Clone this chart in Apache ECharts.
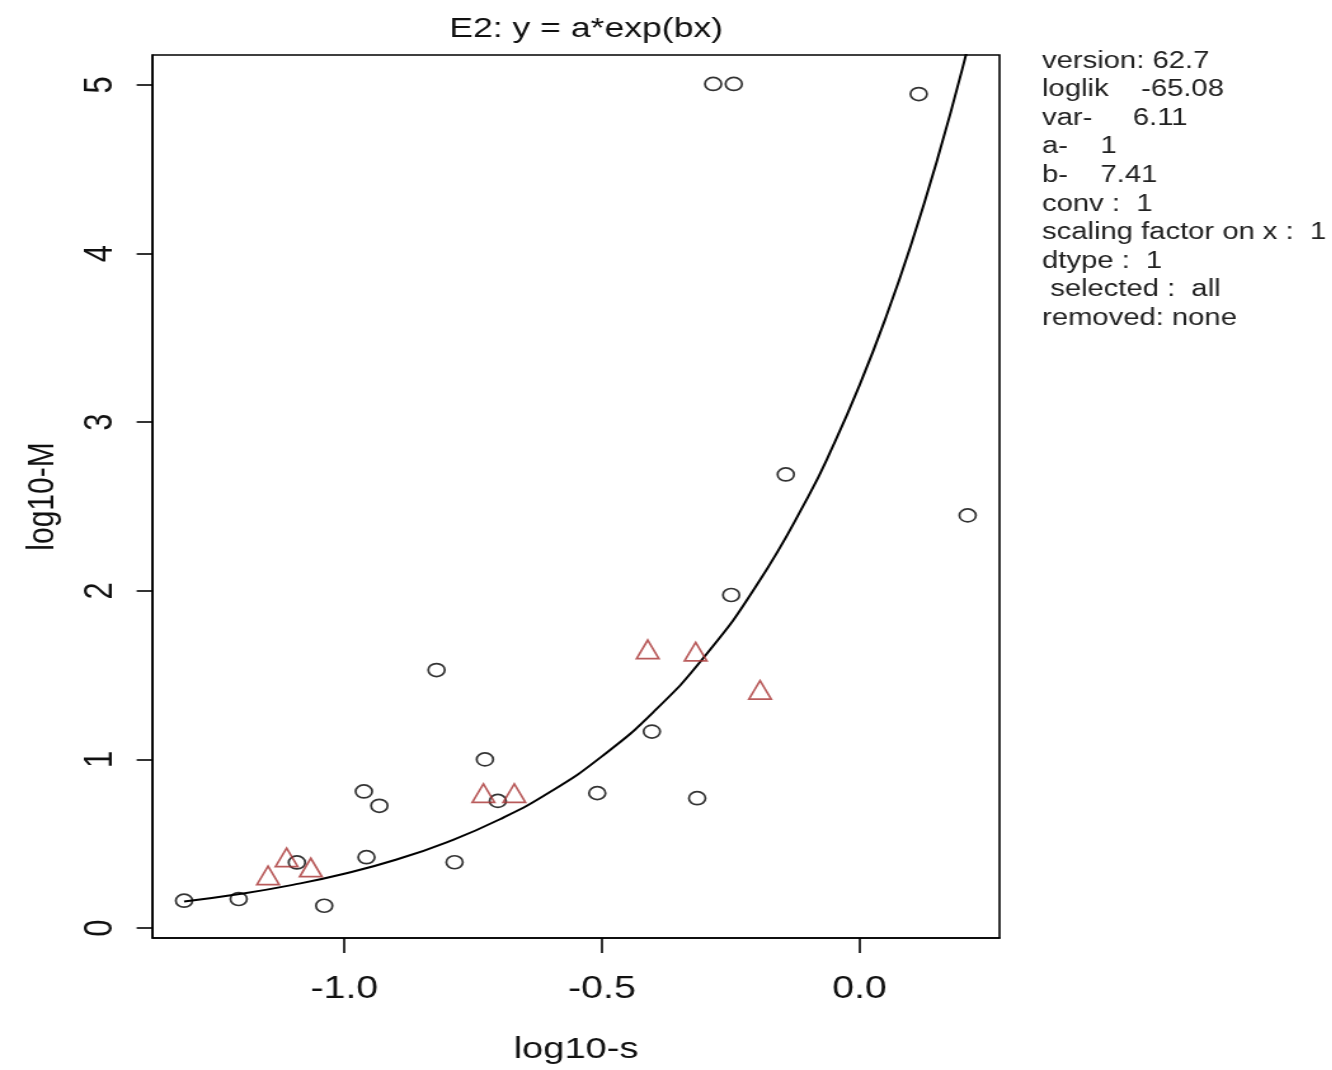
<!DOCTYPE html>
<html>
<head>
<meta charset="utf-8">
<title>E2: y = a*exp(bx)</title>
<script src="https://cdn.jsdelivr.net/npm/echarts@6/dist/echarts.min.js"></script>
<style>
    html, body { margin: 0; padding: 0; background: #fff; overflow: hidden; }
    /* the original picture is stretched sideways, so draw narrow and widen */
    #chart { width: 1049px; height: 1070px; transform: scaleX(1.27); transform-origin: 0 0; }
</style>
</head>
<body>
<div id="chart"></div>
<script>
// observed points (log10-s, log10-M)
var circleX = [-1.311, -1.205, -1.092, -1.039, -0.957, -0.962, -0.932, -0.821, -0.786, -0.727,
               -0.702, -0.509, -0.143, 0.210, -0.249, -0.403, -0.315, -0.284, -0.244, 0.115];
var circleY = [0.162, 0.172, 0.389, 0.132, 0.42, 0.81, 0.725, 1.53, 0.39, 1.0,
               0.754, 0.80, 2.69, 2.447, 1.975, 1.165, 0.77, 5.006, 5.006, 4.946];

// red triangles
var triX = [-1.112, -1.148, -1.065, -0.730, -0.670, -0.411, -0.318, -0.193];
var triY = [0.419, 0.312, 0.359, 0.80, 0.80, 1.653, 1.639, 1.412];

// fitted curve
var curveX = [-1.311, -1.2, -1.1, -1.0, -0.9, -0.8, -0.7, -0.6, -0.5, -0.4, -0.3,
              -0.2, -0.1, -0.05, 0.0, 0.05, 0.1, 0.15, 0.2, 0.25];
var curveY = [0.157, 0.203, 0.256, 0.322, 0.405, 0.510, 0.642, 0.808, 1.018, 1.281, 1.613,
              2.031, 2.556, 2.868, 3.218, 3.611, 4.051, 4.546, 5.100, 5.722];

var xTicks = [-1.0, -0.5, 0.0];
var xTickLabels = ['-1.0', '-0.5', '0.0'];
var yTicks = [0, 1, 2, 3, 4, 5];

var infoLines = [
    'version: 62.7',
    'loglik    -65.08',
    'var-     6.11',
    'a-    1',
    'b-    7.41',
    'conv :  1',
    'scaling factor on x :  1',
    'dtype :  1',
    ' selected :  all',
    'removed: none'
];

function pairs(xs, ys) {
    var out = [];
    for (var i = 0; i < xs.length; i++) {
        out.push([xs[i], ys[i]]);
    }
    return out;
}

var FONT = '"Liberation Sans", Arial, sans-serif';

var chart = echarts.init(document.getElementById('chart'));

chart.setOption({
    animation: false,
    backgroundColor: '#fff',
    textStyle: { fontFamily: FONT, color: '#111' },
    title: {
        text: 'E2: y = a*exp(bx)',
        left: 456.5,
        top: 10,
        textAlign: 'center',
        textStyle: { fontSize: 28, fontWeight: 'normal', color: '#111', fontFamily: FONT }
    },
    grid: {
        left: 120.2,
        right: 262,
        top: 55,
        bottom: 131,
        show: true,
        borderColor: '#000',
        borderWidth: 1.6,
        backgroundColor: 'transparent'
    },
    xAxis: {
        type: 'value',
        min: -1.372,
        max: 0.2718,
        name: 'log10-s',
        nameLocation: 'middle',
        nameGap: 97,
        nameTextStyle: { fontSize: 30, color: '#111' },
        axisLine: { show: true, onZero: false, lineStyle: { color: '#000', width: 1.6 } },
        axisTick: { show: true, length: 15, customValues: xTicks, lineStyle: { color: '#000', width: 1.6 } },
        axisLabel: {
            fontSize: 31, color: '#111', margin: 36,
            customValues: xTicks,
            formatter: function (v) {
                var i = xTicks.indexOf(v);
                return i >= 0 ? xTickLabels[i] : '';
            }
        },
        splitLine: { show: false }
    },
    yAxis: {
        type: 'value',
        min: -0.0592,
        max: 5.1777,
        name: 'log10-M',
        nameLocation: 'middle',
        nameGap: 71,
        nameTextStyle: { fontSize: 30, color: '#111' },
        axisLine: { show: true, onZero: false, lineStyle: { color: '#000', width: 1.6 } },
        axisTick: { show: true, length: 12.6, customValues: yTicks, lineStyle: { color: '#000', width: 1.6 } },
        axisLabel: {
            fontSize: 31, color: '#111', margin: 25, rotate: 90,
            customValues: yTicks
        },
        splitLine: { show: false }
    },
    graphic: [{
        type: 'text',
        left: 820.5,
        top: 47,
        style: {
            text: infoLines.join('\n'),
            fontSize: 23,
            fontFamily: FONT,
            lineHeight: 28.6,
            fill: '#222'
        }
    }],
    series: [
        {
            type: 'line',
            data: pairs(curveX, curveY),
            smooth: true,
            showSymbol: false,
            symbol: 'none',
            clip: true,
            lineStyle: { color: '#000', width: 2 },
            z: 3
        },
        {
            type: 'scatter',
            data: pairs(circleX, circleY),
            symbol: 'circle',
            symbolSize: 13,
            itemStyle: { color: 'rgba(0,0,0,0)', borderColor: '#000', borderWidth: 1.7 },
            z: 4
        },
        {
            type: 'scatter',
            data: pairs(triX, triY),
            symbol: 'triangle',
            symbolSize: [17.5, 18.5],
            itemStyle: { color: 'rgba(0,0,0,0)', borderColor: '#a83232', borderWidth: 1.7 },
            z: 5
        }
    ]
});
</script>
</body>
</html>
